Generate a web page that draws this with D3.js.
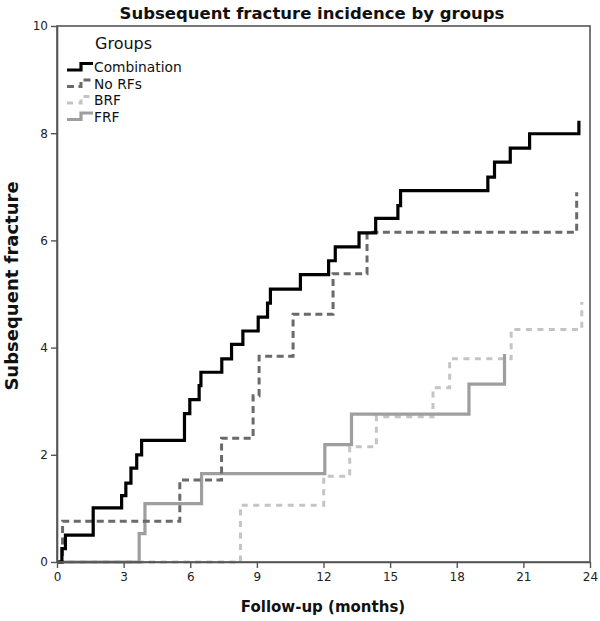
<!DOCTYPE html>
<html>
<head>
<meta charset="utf-8">
<script src="https://cdn.jsdelivr.net/npm/d3@7"></script>
<style>
  html, body { margin: 0; padding: 0; background: #fff; }
  svg { display: block; font-family: "DejaVu Sans", Verdana, sans-serif; }
</style>
</head>
<body>
<svg id="chart" width="600" height="621"></svg>
<script>
// ---- data ----
const groupNames = ["Combination", "No RFs", "BRF", "FRF"];
const xTicks = [0, 3, 6, 9, 12, 15, 18, 21, 24];
const yTicks = [0, 2, 4, 6, 8, 10];

const combinationMonths = [0, 0.22, 0.38, 1.63, 2.91, 3.10, 3.33, 3.59, 3.81, 5.74, 5.98, 6.40, 6.48, 7.42, 7.86, 8.37, 9.06, 9.48, 9.61, 10.96, 12.23, 12.53, 13.60, 14.35, 15.35, 15.47, 19.40, 19.70, 20.41, 21.28, 23.50];
const combinationValues = [0, 0.25, 0.50, 1.01, 1.24, 1.47, 1.75, 2.00, 2.27, 2.77, 3.03, 3.29, 3.54, 3.79, 4.06, 4.31, 4.57, 4.83, 5.09, 5.36, 5.62, 5.88, 6.14, 6.41, 6.65, 6.93, 7.18, 7.46, 7.72, 7.99, 8.23];

const noRFsMonths = [0, 0.25, 5.53, 7.41, 8.83, 9.10, 10.63, 12.43, 13.96, 23.40];
const noRFsValues = [0, 0.76, 1.53, 2.31, 3.10, 3.84, 4.62, 5.38, 6.15, 6.90];

const brfMonths = [0, 8.26, 12.01, 13.18, 14.38, 16.93, 17.68, 20.45, 23.63];
const brfValues = [0, 1.06, 1.60, 2.15, 2.71, 3.25, 3.79, 4.34, 4.85];

const frfMonths = [0, 3.70, 3.96, 6.51, 12.06, 13.26, 18.55, 20.15];
const frfValues = [0, 0.53, 1.09, 1.65, 2.19, 2.76, 3.32, 3.88];

// ---- styles ----
const styles = {
  "Combination": { color: "#000000", width: 3.2, dash: null },
  "No RFs":      { color: "#6a6a6a", width: 3.0, dash: "7,4.5" },
  "BRF":         { color: "#c4c4c4", width: 3.0, dash: "6,5.5" },
  "FRF":         { color: "#9e9e9e", width: 3.2, dash: null }
};

const seriesList = [
  { name: "BRF", months: brfMonths, values: brfValues },
  { name: "FRF", months: frfMonths, values: frfValues },
  { name: "No RFs", months: noRFsMonths, values: noRFsValues },
  { name: "Combination", months: combinationMonths, values: combinationValues }
];

const svg = d3.select("#chart");
const x = d3.scaleLinear().domain([0, 24]).range([57, 590]);
const y = d3.scaleLinear().domain([0, 10]).range([562, 26]);

// title
svg.append("text")
  .attr("x", 312).attr("y", 19)
  .attr("text-anchor", "middle")
  .attr("font-weight", "bold").attr("font-size", 16.5)
  .attr("fill", "#111")
  .text("Subsequent fracture incidence by groups");

// series
const line = d3.line()
  .x((d) => x(d[0]))
  .y((d) => y(d[1]))
  .curve(d3.curveStepAfter);

const plot = svg.append("g");
seriesList.forEach((s) => {
  const st = styles[s.name];
  const pts = s.months.map((m, i) => [m, s.values[i]]);
  plot.append("path")
    .datum(pts)
    .attr("d", line)
    .attr("fill", "none")
    .attr("stroke", st.color)
    .attr("stroke-width", st.width)
    .attr("stroke-dasharray", st.dash)
    .attr("stroke-linejoin", "miter")
    .attr("stroke-linecap", "butt");
});

// frame
svg.append("rect")
  .attr("x", x(0)).attr("y", y(10))
  .attr("width", x(24) - x(0)).attr("height", y(0) - y(10))
  .attr("fill", "none").attr("stroke", "#555").attr("stroke-width", 1.6);

// axes
const xAxis = d3.axisBottom(x).tickValues(xTicks).tickSize(6).tickSizeOuter(0);
const gx = svg.append("g").attr("transform", `translate(0,${y(0)})`).call(xAxis);
gx.select(".domain").attr("stroke", "#555").attr("stroke-width", 1.6);
gx.selectAll(".tick line").attr("stroke", "#555").attr("stroke-width", 1.4);
gx.selectAll(".tick text").attr("font-size", 12).attr("fill", "#222")
  .attr("font-family", "DejaVu Sans, sans-serif").attr("dy", "0.85em");

const yAxis = d3.axisLeft(y).tickValues(yTicks).tickSize(6).tickSizeOuter(0);
const gy = svg.append("g").attr("transform", `translate(${x(0)},0)`).call(yAxis);
gy.select(".domain").attr("stroke", "#555").attr("stroke-width", 1.6);
gy.selectAll(".tick line").attr("stroke", "#555").attr("stroke-width", 1.4);
gy.selectAll(".tick text").attr("font-size", 12).attr("fill", "#222")
  .attr("font-family", "DejaVu Sans, sans-serif");

// axis titles
svg.append("text")
  .attr("x", 323).attr("y", 612)
  .attr("text-anchor", "middle")
  .attr("font-weight", "bold").attr("font-size", 15)
  .attr("fill", "#111")
  .text("Follow-up (months)");

svg.append("text")
  .attr("transform", "translate(18,286) rotate(-90)")
  .attr("text-anchor", "middle")
  .attr("font-weight", "bold").attr("font-size", 18)
  .attr("fill", "#111")
  .text("Subsequent fracture");

// legend
const legend = svg.append("g");
legend.append("text")
  .attr("x", 95).attr("y", 49)
  .attr("font-size", 16).attr("fill", "#111")
  .text("Groups");

const rowY = [67.5, 84, 100.5, 117];
groupNames.forEach((name, i) => {
  const st = styles[name];
  const cy = rowY[i];
  legend.append("path")
    .attr("d", `M67,${cy + 2.5} H81 V${cy - 4} H93`)
    .attr("fill", "none")
    .attr("stroke", st.color)
    .attr("stroke-width", st.width)
    .attr("stroke-dasharray", st.dash);
  legend.append("text")
    .attr("x", 94).attr("y", cy)
    .attr("dy", "0.35em")
    .attr("font-size", 13.8).attr("fill", "#111")
    .text(name);
});
</script>
</body>
</html>
